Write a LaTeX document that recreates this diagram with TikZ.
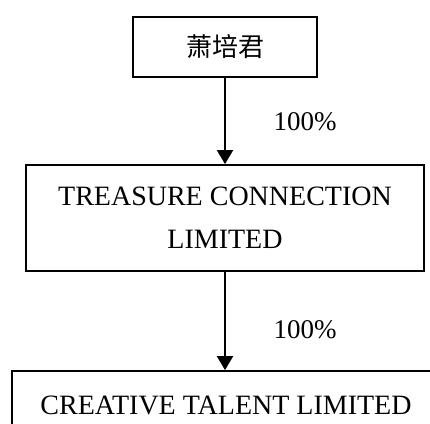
\documentclass[tikz,border=0pt]{standalone}
\usepackage{fontspec}
\setmainfont{Liberation Serif}
\newfontfamily\cjk{Noto Sans CJK SC}[FakeBold=0]
\usetikzlibrary{arrows.meta}
\begin{document}
\begin{tikzpicture}[x=1pt,y=-1pt,
  box/.style={draw,line width=1.8pt,inner sep=0pt,font=\fontsize{28}{43}\selectfont,align=center},
  link/.style={line width=2pt,-{Triangle[width=16pt,length=14pt]}},
  pct/.style={font=\fontsize{27}{30}\selectfont,inner sep=0pt}]
\useasboundingbox (0,0) rectangle (430,423);
\clip (0,0) rectangle (430,423);
\node[box,minimum width=184pt,minimum height=60pt] (a) at (225,47) {\cjk\fontsize{26}{30}\selectfont 萧培君};
\node[box,minimum width=398pt,minimum height=106pt] (b) at (225,218) {TREASURE CONNECTION\\LIMITED};
\node[box,minimum width=428pt,minimum height=68pt] (c) at (226,405) {CREATIVE TALENT LIMITED};
\draw[link] (a.south) -- (b.north);
\draw[link] (b.south) -- (c.north -| b.south);
\node[pct] (p1) at (305,122) {100\%};
\node[pct] (p2) at (305,330) {100\%};
\end{tikzpicture}
\end{document}
